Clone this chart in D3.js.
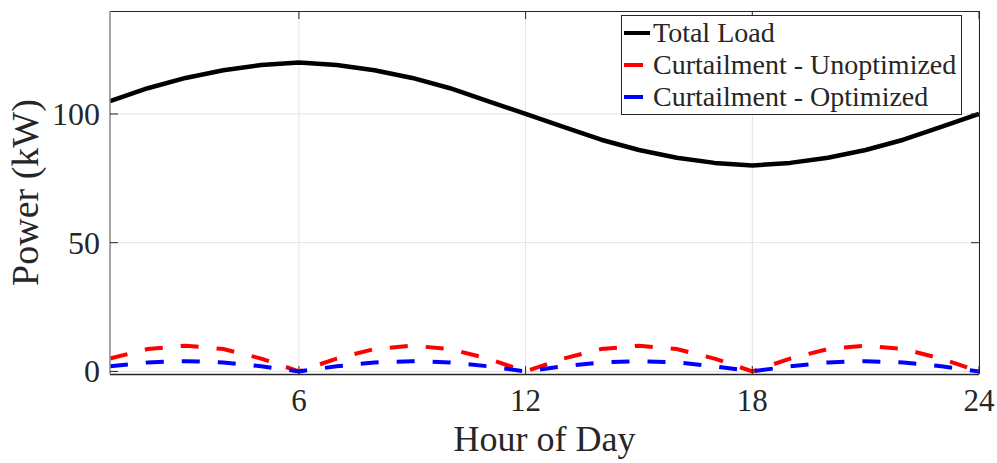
<!DOCTYPE html>
<html>
<head>
<meta charset="utf-8">
<script src="https://cdn.jsdelivr.net/npm/d3@7"></script>
<style>
  body { margin: 0; background: #fff; }
  text { font-family: "Liberation Serif", "Times New Roman", serif; fill: #262626; }
</style>
</head>
<body>
<div id="main"></div>
<script>
// hours of the day
var hours = [1, 2, 3, 4, 5, 6, 7, 8, 9, 10, 11, 12, 13, 14, 15, 16, 17, 18, 19, 20, 21, 22, 23, 24];
// total load (kW)
var totalLoad = [105, 110, 114, 117, 119, 120, 119, 117, 114, 110, 105, 100,
                 95, 90, 86, 83, 81, 80, 81, 83, 86, 90, 95, 100];
// curtailment, unoptimized (kW)
var curtUnopt = [5, 8.7, 10, 8.7, 5, 0, 5, 8.7, 10, 8.7, 5, 0,
                 5, 8.7, 10, 8.7, 5, 0, 5, 8.7, 10, 8.7, 5, 0];
// curtailment, optimized (kW)
var curtOpt = [2, 3.5, 4, 3.5, 2, 0, 2, 3.5, 4, 3.5, 2, 0,
               2, 3.5, 4, 3.5, 2, 0, 2, 3.5, 4, 3.5, 2, 0];
var xTicks = [6, 12, 18, 24];
var yTicks = [0, 50, 100];
var seriesNames = ["Total Load", "Curtailment - Unoptimized", "Curtailment - Optimized"];

var ctx = {
    w: 997,
    h: 463,
    left: 110, right: 979, top: 11, bottom: 374,
    axisColor: "#262626",
    gridColor: "#e3e3e3"
};

var createViz = function(){
    var svg = d3.select("#main").append("svg")
        .attr("width", ctx.w)
        .attr("height", ctx.h);

    ctx.xScale = d3.scaleLinear().domain([1, 24]).range([ctx.left, ctx.right]);
    ctx.yScale = d3.scaleLinear().domain([-1, 140]).range([ctx.bottom, ctx.top]);

    // grid
    var grid = svg.append("g");
    grid.selectAll("line.gx").data(xTicks).enter().append("line")
        .attr("x1", d => ctx.xScale(d)).attr("x2", d => ctx.xScale(d))
        .attr("y1", ctx.top).attr("y2", ctx.bottom)
        .attr("stroke", ctx.gridColor).attr("stroke-width", 1);
    grid.selectAll("line.gy").data(yTicks).enter().append("line")
        .attr("y1", d => ctx.yScale(d)).attr("y2", d => ctx.yScale(d))
        .attr("x1", ctx.left).attr("x2", ctx.right)
        .attr("stroke", ctx.gridColor).attr("stroke-width", 1);

    // series
    var line = function(vals){
        return d3.line()
            .x((d, i) => ctx.xScale(hours[i]))
            .y(d => ctx.yScale(d))(vals);
    };
    var plotG = svg.append("g");
    plotG.append("path").attr("d", line(totalLoad))
        .attr("fill", "none").attr("stroke", "#000").attr("stroke-width", 4.5)
        .attr("stroke-linejoin", "round");
    plotG.append("path").attr("d", line(curtUnopt))
        .attr("fill", "none").attr("stroke", "#ff0000").attr("stroke-width", 4)
        .attr("stroke-dasharray", "18,18");
    plotG.append("path").attr("d", line(curtOpt))
        .attr("fill", "none").attr("stroke", "#0000ff").attr("stroke-width", 4)
        .attr("stroke-dasharray", "18,18");

    // axes box
    var axG = svg.append("g");
    axG.append("line").attr("x1", ctx.left).attr("x2", ctx.right)
        .attr("y1", ctx.bottom + 0.5).attr("y2", ctx.bottom + 0.5)
        .attr("stroke", ctx.axisColor).attr("stroke-width", 1.5);
    axG.append("line").attr("x1", ctx.left).attr("x2", ctx.right)
        .attr("y1", ctx.top + 0.5).attr("y2", ctx.top + 0.5)
        .attr("stroke", ctx.axisColor).attr("stroke-width", 1);
    axG.append("line").attr("x1", ctx.left).attr("x2", ctx.left)
        .attr("y1", ctx.top).attr("y2", ctx.bottom)
        .attr("stroke", "#8a8a8a").attr("stroke-width", 1.5);
    axG.append("line").attr("x1", ctx.right + 0.5).attr("x2", ctx.right + 0.5)
        .attr("y1", ctx.top).attr("y2", ctx.bottom)
        .attr("stroke", ctx.axisColor).attr("stroke-width", 1);

    // tick marks (inward, mirrored)
    var tl = 8;
    xTicks.forEach(function(t){
        var x = ctx.xScale(t);
        axG.append("line").attr("x1", x).attr("x2", x)
            .attr("y1", ctx.bottom).attr("y2", ctx.bottom - tl).attr("stroke", ctx.axisColor);
        axG.append("line").attr("x1", x).attr("x2", x)
            .attr("y1", ctx.top).attr("y2", ctx.top + tl).attr("stroke", ctx.axisColor);
    });
    yTicks.forEach(function(t){
        var y = ctx.yScale(t);
        axG.append("line").attr("x1", ctx.left).attr("x2", ctx.left + tl)
            .attr("y1", y).attr("y2", y).attr("stroke", ctx.axisColor);
        axG.append("line").attr("x1", ctx.right).attr("x2", ctx.right - tl)
            .attr("y1", y).attr("y2", y).attr("stroke", ctx.axisColor);
    });

    // tick labels
    axG.selectAll("text.xt").data(xTicks).enter().append("text")
        .attr("x", d => ctx.xScale(d)).attr("y", 411)
        .attr("text-anchor", "middle").style("font-size", "31px")
        .text(d => d);
    axG.selectAll("text.yt").data(yTicks).enter().append("text")
        .attr("x", 100).attr("y", d => ctx.yScale(d) + 11)
        .attr("text-anchor", "end").style("font-size", "32px")
        .text(d => d);

    // axis labels
    svg.append("text")
        .attr("x", (ctx.left + ctx.right) / 2).attr("y", 451)
        .attr("text-anchor", "middle").style("font-size", "36px")
        .text("Hour of Day");
    svg.append("text")
        .attr("transform", `translate(38,${(ctx.top + ctx.bottom) / 2}) rotate(-90)`)
        .attr("text-anchor", "middle").style("font-size", "38px")
        .text("Power (kW)");

    // legend
    var lg = svg.append("g");
    lg.append("rect").attr("x", 621.5).attr("y", 15.5).attr("width", 340).attr("height", 99)
        .attr("fill", "#fff").attr("stroke", ctx.axisColor).attr("stroke-width", 1);
    var colors = ["#000", "#ff0000", "#0000ff"];
    var rowY = [33, 65, 97];
    seriesNames.forEach(function(name, i){
        lg.append("line")
            .attr("x1", 624).attr("x2", i === 0 ? 650 : 643)
            .attr("y1", rowY[i]).attr("y2", rowY[i])
            .attr("stroke", colors[i]).attr("stroke-width", 4);
        lg.append("text")
            .attr("x", 653).attr("y", rowY[i] + 9)
            .style("font-size", "28px")
            .text(name);
    });
};

createViz();
</script>
</body>
</html>
